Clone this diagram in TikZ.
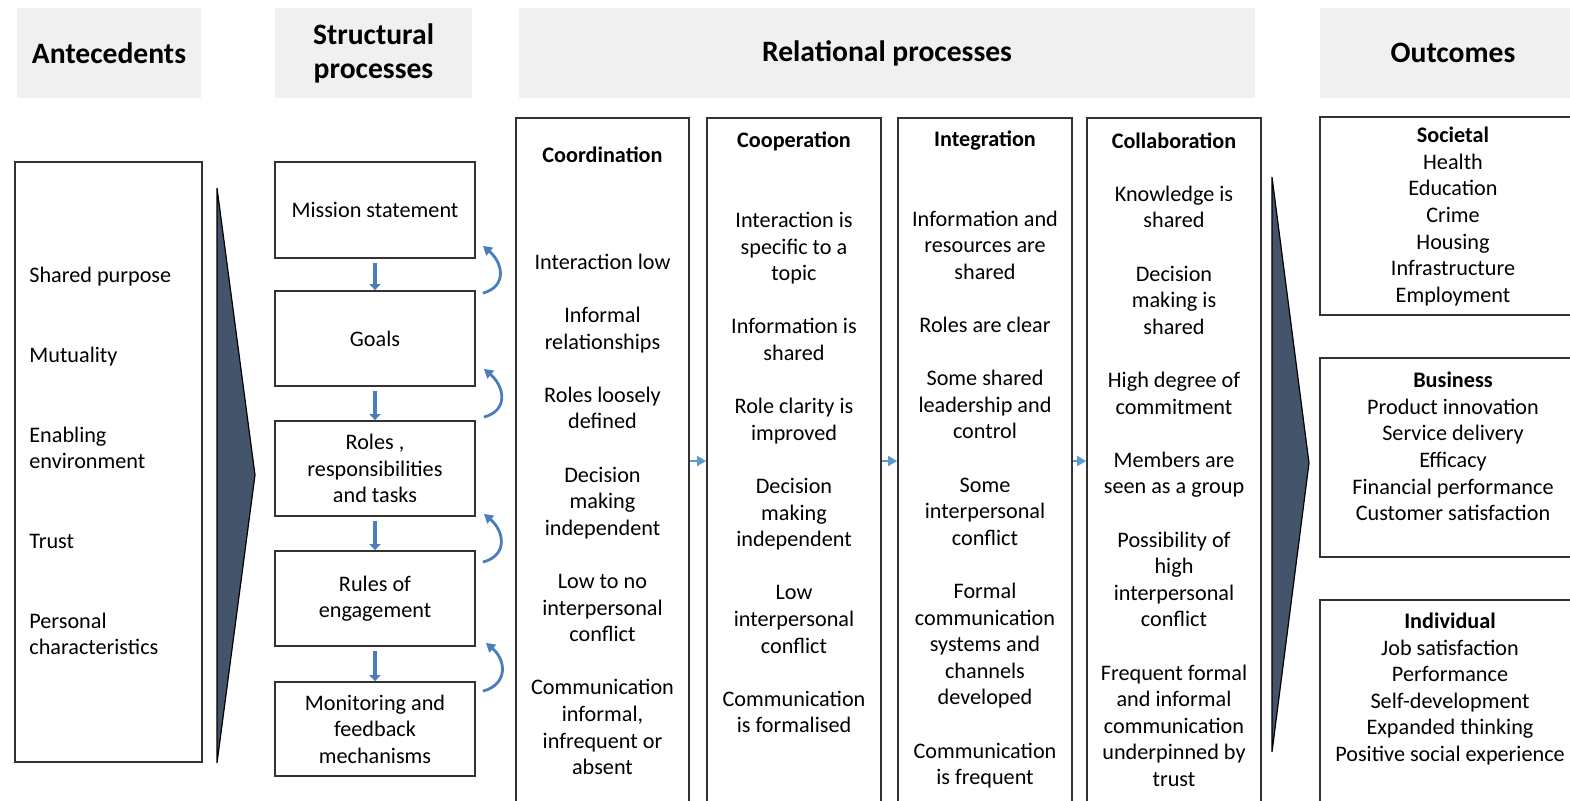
\documentclass[tikz,border=0pt]{standalone}
\usepackage{fontspec}
\setmainfont{Carlito}
\usetikzlibrary{arrows.meta}
\definecolor{hdrgray}{RGB}{240, 240, 240}
\definecolor{slate}{RGB}{68, 84, 106}
\definecolor{flowblue}{RGB}{74, 126, 187}
\definecolor{linkblue}{RGB}{91, 155, 213}
\definecolor{edge}{RGB}{50, 50, 50}
\newcommand{\bodyfont}{\fontsize{11.1}{13.3}\selectfont}
\newcommand{\hdrfont}{\fontsize{14.8}{17}\selectfont\bfseries}

\begin{document}
\begin{tikzpicture}
	[x=0.5pt, y=-0.5pt, every node/.style={inner sep=0pt},
	hdr/.style={fill=hdrgray, minimum height=45pt, font=\hdrfont, align=center},
	panel/.style={draw=edge, line width=0.9pt, fill=white},
	txt/.style={font=\bodyfont, align=center},
	flow/.style={draw=flowblue, line width=2pt, -{Triangle[length=3pt, width=5.5pt]}, shorten <=2pt},
	fback/.style={draw=flowblue, line width=1.4pt, -{Triangle[length=4.5pt, width=5pt]}},
	link/.style={draw=linkblue, line width=1pt, -{Triangle[length=4.5pt, width=5pt]}},
	wedge/.style={fill=slate, draw=black, line width=0.6pt}]
	\useasboundingbox (0, 0) rectangle (1570, 800);
	\clip (0, 0) rectangle (1570, 800);

	% column headings
	\node (hante) [hdr, minimum width=92pt] at (109, 53) {Antecedents};
	\node (hstruct) [hdr, minimum width=98.5pt] at (373.5, 53) {Structural\\processes};
	\node (hrel) [hdr, minimum width=368pt] at (887, 53) {Relational processes};
	\node (hout) [hdr, minimum width=133pt] at (1453, 53) {Outcomes};

	% antecedents
	\node (ante) [panel, minimum width=93.5pt, minimum height=300pt] at (108.5, 462) {};
	\node (antetxt) [txt, align=left, anchor=west] at (29, 461) {Shared purpose\\[2\baselineskip]
		Mutuality\\[2\baselineskip]
		Enabling\\environment\\[2\baselineskip]
		Trust\\[2\baselineskip]
		Personal\\characteristics};
	\draw [wedge] (217, 188) -- (255, 475) -- (217, 763) -- cycle;

	% structural processes
	\node (mission) [panel, txt, minimum width=100pt, minimum height=48pt] at (375, 210) {Mission statement};
	\node (goals) [panel, txt, minimum width=100pt, minimum height=47.5pt] at (375, 338.5) {Goals};
	\node (roles) [panel, txt, minimum width=100pt, minimum height=47.5pt] at (375, 468.5) {Roles ,\\responsibilities\\and tasks};
	\node (rules) [panel, txt, minimum width=100pt, minimum height=47.5pt] at (375, 598.5) {Rules of\\engagement};
	\node (monitor) [panel, txt, minimum width=100pt, minimum height=47pt] at (375, 729) {Monitoring and\\feedback\\mechanisms};
	\draw [flow] (mission) -- (goals);
	\draw [flow] (goals) -- (roles);
	\draw [flow] (roles) -- (rules);
	\draw [flow] (rules) -- (monitor);
	\draw [fback] ([shift={(3.5pt,-1.5pt)}]goals.north east) to[out=15, in=-40, looseness=1.4] ([shift={(3.5pt,6.5pt)}]mission.south east);
	\draw [fback] ([shift={(4pt,1.5pt)}]roles.north east) to[out=15, in=-40, looseness=1.4] ([shift={(4pt,9pt)}]goals.south east);
	\draw [fback] ([shift={(3.5pt,-6pt)}]rules.north east) to[out=15, in=-40, looseness=1.4] ([shift={(4pt,1.5pt)}]roles.south east);
	\draw [fback] ([shift={(3.5pt,-5pt)}]monitor.north east) to[out=15, in=-40, looseness=1.4] ([shift={(5pt,2pt)}]rules.south east);

	% relational processes
	\node (coord) [panel, minimum width=86.5pt, minimum height=343pt] at (602.5, 461) {};
	\node (coop) [panel, minimum width=87pt, minimum height=343pt] at (794, 461) {};
	\node (integ) [panel, minimum width=87pt, minimum height=343pt] at (985, 461) {};
	\node (collab) [panel, minimum width=87pt, minimum height=343pt] at (1174, 461) {};
	\draw [link] (coord) -- (coop);
	\draw [link] (coop) -- (integ);
	\draw [link] (integ) -- (collab);

	\node (coordtxt) [txt] at (602.5, 461) {\textbf{Coordination}\\[3\baselineskip]
		Interaction low\\[\baselineskip]
		Informal\\relationships\\[\baselineskip]
		Roles loosely\\defined\\[\baselineskip]
		Decision\\making\\independent\\[\baselineskip]
		Low to no\\interpersonal\\conflict\\[\baselineskip]
		Communication\\informal,\\infrequent or\\absent};
	\node (cooptxt) [txt] at (794, 432.5) {\textbf{Cooperation}\\[2\baselineskip]
		Interaction is\\specific to a\\topic\\[\baselineskip]
		Information is\\shared\\[\baselineskip]
		Role clarity is\\improved\\[\baselineskip]
		Decision\\making\\independent\\[\baselineskip]
		Low\\interpersonal\\conflict\\[\baselineskip]
		Communication\\is formalised};
	\node (integtxt) [txt] at (985, 459.5) {\textbf{Integration}\\[2\baselineskip]
		Information and\\resources are\\shared\\[\baselineskip]
		Roles are clear\\[\baselineskip]
		Some shared\\leadership and\\control\\[\baselineskip]
		Some\\interpersonal\\conflict\\[\baselineskip]
		Formal\\communication\\systems and\\channels\\developed\\[\baselineskip]
		Communication\\is frequent};
	\node (collabtxt) [txt] at (1174, 459.5) {\textbf{Collaboration}\\[\baselineskip]
		Knowledge is\\shared\\[\baselineskip]
		Decision\\making is\\shared\\[\baselineskip]
		High degree of\\commitment\\[\baselineskip]
		Members are\\seen as a group\\[\baselineskip]
		Possibility of\\high\\interpersonal\\conflict\\[\baselineskip]
		Frequent formal\\and informal\\communication\\underpinned by\\trust};
	\draw [wedge] (1272, 177) -- (1309, 463) -- (1272, 752) -- cycle;

	% outcomes
	\node (societal) [panel, minimum width=133pt, minimum height=99pt] at (1453, 216) {};
	\node (business) [panel, minimum width=133pt, minimum height=99.5pt] at (1453, 457.5) {};
	\node (individual) [panel, minimum width=133pt, minimum height=115pt] at (1453, 715) {};
	\node (societaltxt) [txt] at (1453, 216.5) {\textbf{Societal}\\Health\\Education\\Crime\\Housing\\Infrastructure\\Employment};
	\node (businesstxt) [txt] at (1453, 446.5) {\textbf{Business}\\Product innovation\\Service delivery\\Efficacy\\Financial performance\\Customer satisfaction};
	\node (individualtxt) [txt] at (1450, 689) {\textbf{Individual}\\Job satisfaction\\Performance\\Self-development\\Expanded thinking\\Positive social experience};
\end{tikzpicture}
\end{document}
